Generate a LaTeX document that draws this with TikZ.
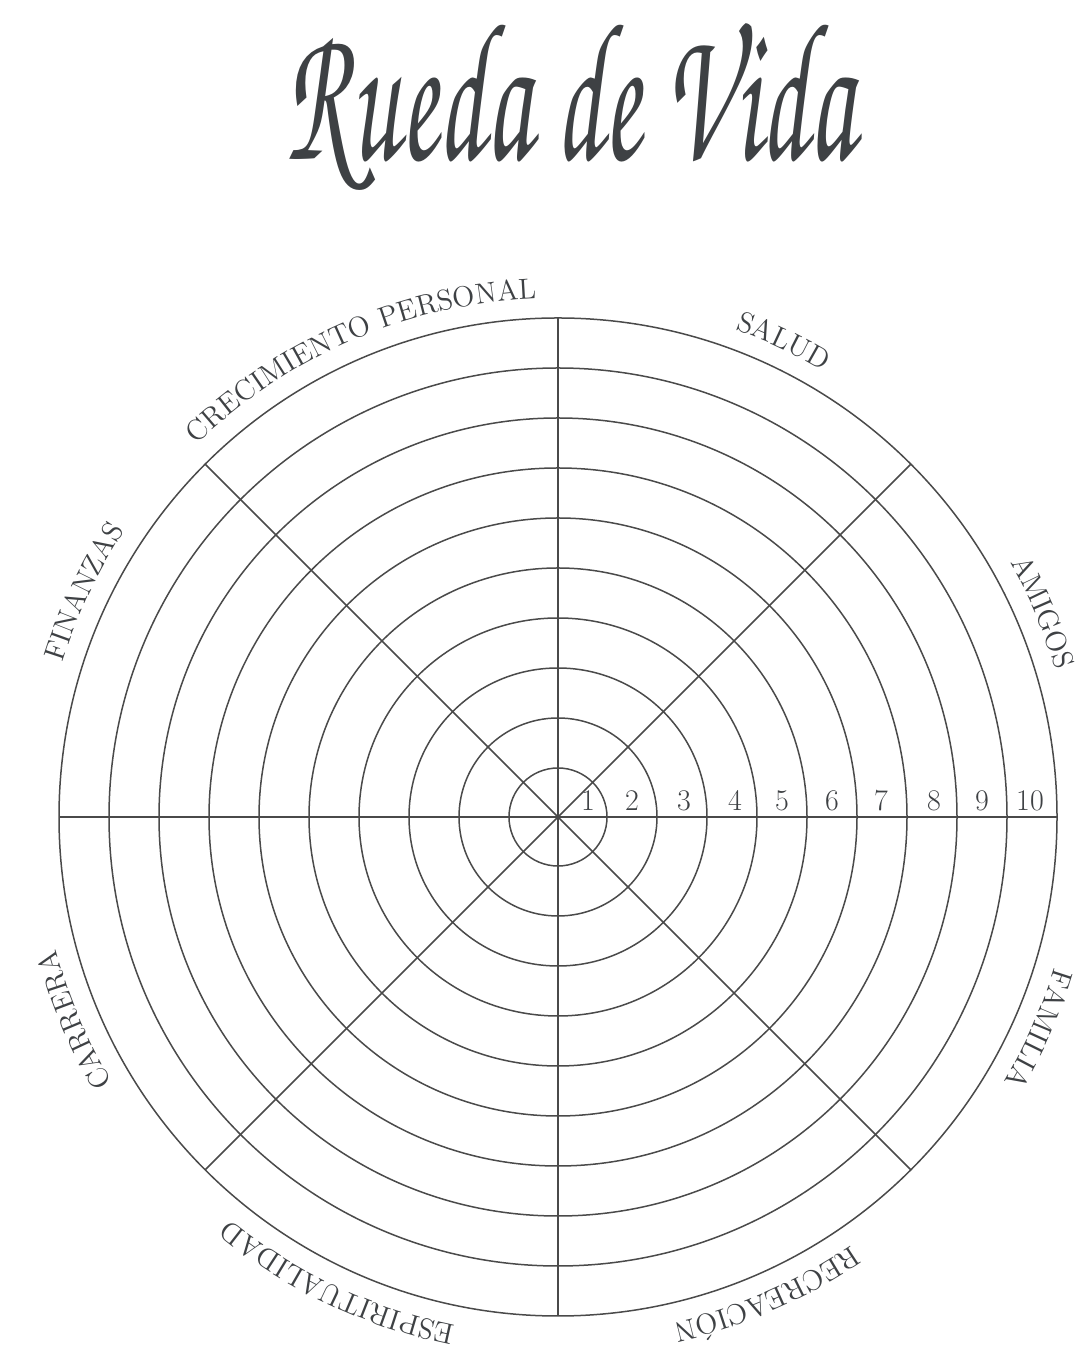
\documentclass[tikz,border=0pt]{standalone}
\usepackage{fontspec}
\usetikzlibrary{decorations.text}
\definecolor{ink}{HTML}{3E4144}
\definecolor{gridc}{HTML}{4A4A4A}
\newcommand\titlefont{\fontencoding{OT1}\fontfamily{pzc}\fontseries{mb}\fontshape{it}\fontsize{62}{70}\selectfont}
\newcommand\lblfont{\fontsize{14.5}{17}\selectfont}
\newcommand\numfont{\normalfont\fontsize{15}{17}\selectfont}
\begin{document}
\begin{tikzpicture}[x=0.5pt,y=0.5pt,
  ring/.style={draw=gridc,line width=0.75pt},
  spoke/.style={draw=gridc,line width=0.75pt},
  lbl/.style={decorate,decoration={text along path,text align=center,text color=ink,text={|\lblfont|#1}}},
  num/.style={font=\numfont,text=ink,anchor=base,inner sep=0pt},
]
\useasboundingbox (0,0) rectangle (1085,1349);
\node[font=\titlefont,text=ink,anchor=base,inner sep=0pt,xscale=0.88,yscale=1.6] (title) at (570,1189) {Rueda de Vida};
\begin{scope}[shift={(558,532)}]
  \coordinate (c) at (0,0);
  \foreach \k in {1,...,10} \draw[ring] (c) circle[radius=\k*50-1];
  \foreach \a in {0,45,...,315} {
    \coordinate (rim\a) at (\a:499);
    \draw[spoke] (c) -- (rim\a);
  }
  \foreach \k/\x in {1/30,2/74,3/126,4/177,5/224,6/274,7/323,8/376,9/424,10/472}
    \node[num] (n\k) at (\x,6) {\k};
  \foreach \m/\t in {113.25/CRECIMIENTO PERSONAL,64.65/SALUD,22.9/AMIGOS,-23.75/FAMILIA,-66.4/RECREACIÓN,-115.3/ESPIRITUALIDAD,-157.2/CARRERA,154.6/FINANZAS}
    \path[lbl=\t] (\m+40:519) arc[start angle=\m+40,end angle=\m-40,radius=519];
\end{scope}
\end{tikzpicture}
\end{document}
